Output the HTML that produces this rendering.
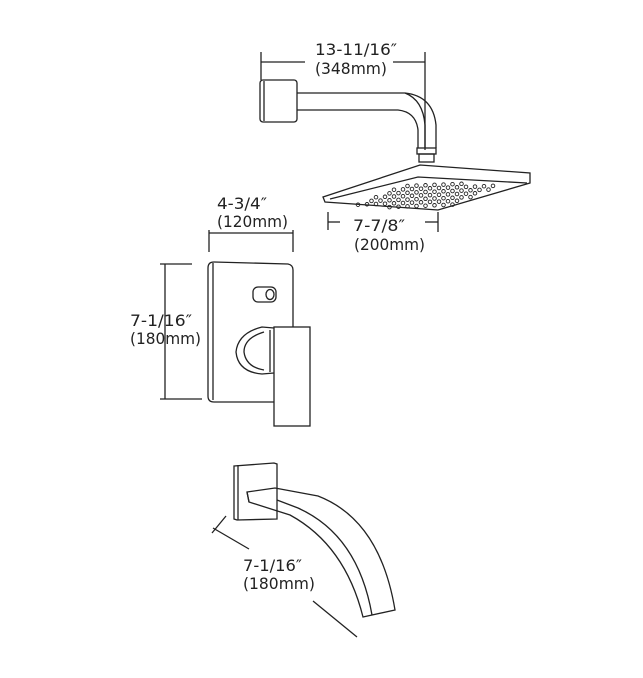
<!DOCTYPE html>
<html><head><meta charset="utf-8"><style>
html,body{margin:0;padding:0;background:#fff;}
svg{display:block;}
text{font-family:"DejaVu Sans","Liberation Sans",sans-serif;fill:#222;font-size:16px;}
</style></head><body>
<svg id="s" width="643" height="678" viewBox="0 0 643 678" xmlns="http://www.w3.org/2000/svg">
<g fill="none" stroke="#222" stroke-width="1.3">
<line x1="261" y1="52" x2="261" y2="80"/>
<line x1="425" y1="52" x2="425" y2="150"/>
<line x1="261" y1="62" x2="305" y2="62"/>
<line x1="393" y1="62" x2="425" y2="62"/>
<rect x="260" y="80" width="37" height="42" rx="3"/>
<line x1="264" y1="81" x2="264" y2="121"/>
<path d="M297 93 L405 93 Q433 96 436 125 L436 148"/>
<path d="M297 110 L398 110 Q416 112 418 130 L418 148"/>
<path d="M405 93 Q423 100 425 125 L425 148"/>
<rect x="417" y="148" width="19" height="6"/>
<rect x="419" y="154" width="15" height="8"/>
<path d="M323 197 L420 165 L530 173 L530 183 L438 210 L325 202 Z"/>
<path d="M330 199 L418 177 L527 183"/>
<line x1="328" y1="212" x2="328" y2="230"/>
<line x1="438" y1="212" x2="438" y2="232"/>
<line x1="328" y1="222" x2="340" y2="222"/>
<line x1="425" y1="222" x2="438" y2="222"/>
<line x1="209" y1="230" x2="209" y2="252"/>
<line x1="293" y1="230" x2="293" y2="252"/>
<line x1="209" y1="233" x2="293" y2="233"/>
<line x1="165" y1="264" x2="165" y2="399"/>
<line x1="160" y1="264" x2="192" y2="264"/>
<line x1="160" y1="399" x2="202" y2="399"/>
<path d="M214 262 L288 264 Q293 265 293 270 L293 327"/>
<path d="M274 402 L214 402 Q208 402 208 396 L208 268 Q208 262 214 262"/>
<path d="M213 263 L213 400"/>
<rect x="253" y="287" width="23" height="15" rx="5"/>
<ellipse cx="270" cy="294.5" rx="4" ry="5"/>
<path d="M274 328 L262 327 Q238 333 236 352 Q238 372 262 374 L274 373"/>
<path d="M264 332 Q244 338 244 352 Q246 367 264 370"/>
<rect x="274" y="327" width="36" height="99"/>
<line x1="270" y1="330" x2="270" y2="372"/>
<path d="M234 466 L274 463 L277 464 L277 519 L237 520 L234 519 Z"/>
<line x1="238" y1="465" x2="238" y2="520"/>
<path d="M247 492 L275 488 L318 496 Q380 520 395 610 L363 617 Q345 545 290 515 L249 502 Z"/>
<line x1="249" y1="502" x2="247" y2="492"/>
<path d="M277 500 L298 508 Q358 535 372 615"/>
<line x1="213" y1="528" x2="249" y2="549"/>
<line x1="212" y1="533" x2="226" y2="516"/>
<line x1="313" y1="601" x2="357" y2="637"/>
</g>
<g id="dots" fill="none" stroke="#222" stroke-width="0.9"></g>
<text x="315" y="55" textLength="82" lengthAdjust="spacingAndGlyphs">13-11/16″</text>
<text x="315" y="74" textLength="72" lengthAdjust="spacingAndGlyphs">(348mm)</text>
<text x="353" y="231" textLength="52" lengthAdjust="spacingAndGlyphs">7-7/8″</text>
<text x="354" y="250" textLength="71" lengthAdjust="spacingAndGlyphs">(200mm)</text>
<text x="217" y="209" textLength="50" lengthAdjust="spacingAndGlyphs">4-3/4″</text>
<text x="217" y="227" textLength="71" lengthAdjust="spacingAndGlyphs">(120mm)</text>
<text x="130" y="326" textLength="62" lengthAdjust="spacingAndGlyphs">7-1/16″</text>
<text x="130" y="344" textLength="71" lengthAdjust="spacingAndGlyphs">(180mm)</text>
<text x="243" y="571" textLength="59" lengthAdjust="spacingAndGlyphs">7-1/16″</text>
<text x="243" y="589" textLength="72" lengthAdjust="spacingAndGlyphs">(180mm)</text>
</svg>
<script>
var g=document.getElementById('dots'),ns="http://www.w3.org/2000/svg";
var P=[[355,206],[408,183],[503,184],[445,209]];
function inside(x,y){var c=false;for(var i=0,j=P.length-1;i<P.length;j=i++){var xi=P[i][0],yi=P[i][1],xj=P[j][0],yj=P[j][1];if(((yi>y)!=(yj>y))&&(x<(xj-xi)*(y-yi)/(yj-yi)+xi))c=!c;}return c;}
for(var r=0;r<8;r++){for(var c=0;c<30;c++){
 var x=340+c*9+(r%2)*4.5, y=185+r*3.4-c*0.35;
 if(!inside(x,y))continue;
 var e=document.createElementNS(ns,'circle');e.setAttribute('cx',x.toFixed(1));e.setAttribute('cy',y.toFixed(1));e.setAttribute('r','1.8');g.appendChild(e);}}
</script>
</body></html>
